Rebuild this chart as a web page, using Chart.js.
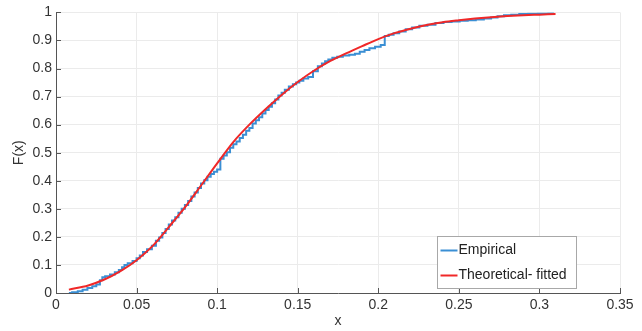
<!DOCTYPE html>
<html>
<head>
<meta charset="utf-8">
<script src="https://cdn.jsdelivr.net/npm/chart.js@4"></script>
<style>
  body { margin: 0; background: #fff; }
  #wrap { width: 642px; height: 331px; }
</style>
</head>
<body>
<div id="wrap"><canvas id="cdfChart"></canvas></div>
<script>
// empirical CDF
const empX = [0.008, 0.012, 0.015, 0.018, 0.021, 0.024, 0.026, 0.0285, 0.029, 0.032, 0.035, 0.038, 0.040, 0.042, 0.043,
  0.046, 0.049, 0.051, 0.053, 0.055, 0.058, 0.061, 0.063, 0.065, 0.067, 0.069, 0.071, 0.073, 0.075, 0.077, 0.079,
  0.081, 0.083, 0.085, 0.087, 0.089, 0.091, 0.093, 0.095, 0.097, 0.099, 0.101, 0.103, 0.105, 0.107, 0.109, 0.111,
  0.113, 0.115, 0.117, 0.119, 0.121, 0.123, 0.125, 0.127, 0.129, 0.131, 0.133, 0.135, 0.137, 0.139, 0.141, 0.143,
  0.146, 0.148, 0.150, 0.152, 0.155, 0.158, 0.161, 0.164, 0.166, 0.168, 0.170, 0.173, 0.176, 0.180, 0.184, 0.187,
  0.190, 0.193, 0.196, 0.200, 0.203, 0.205, 0.208, 0.211, 0.215, 0.219, 0.223, 0.228, 0.233, 0.238, 0.243, 0.248,
  0.253, 0.258, 0.263, 0.268, 0.272, 0.276, 0.280, 0.285, 0.290, 0.296, 0.302, 0.309];
const empY = [0.000, 0.003, 0.006, 0.012, 0.018, 0.024, 0.030, 0.045, 0.056, 0.060, 0.066, 0.074, 0.082, 0.092, 0.100,
  0.106, 0.114, 0.124, 0.134, 0.146, 0.156, 0.168, 0.186, 0.198, 0.214, 0.228, 0.244, 0.258, 0.270, 0.286, 0.300,
  0.314, 0.328, 0.344, 0.358, 0.374, 0.390, 0.402, 0.414, 0.424, 0.432, 0.440, 0.478, 0.490, 0.502, 0.518, 0.530,
  0.540, 0.552, 0.564, 0.578, 0.588, 0.604, 0.616, 0.626, 0.640, 0.652, 0.664, 0.676, 0.690, 0.704, 0.714, 0.724,
  0.736, 0.744, 0.750, 0.756, 0.764, 0.770, 0.790, 0.808, 0.818, 0.826, 0.832, 0.838, 0.842, 0.846, 0.849, 0.853,
  0.860, 0.866, 0.872, 0.878, 0.884, 0.916, 0.920, 0.926, 0.932, 0.940, 0.946, 0.952, 0.956, 0.962, 0.966, 0.968,
  0.970, 0.972, 0.975, 0.978, 0.982, 0.986, 0.990, 0.992, 0.994, 0.995, 0.996, 0.997];

// fitted theoretical CDF
const fitX = [0.008, 0.02, 0.03, 0.04, 0.05, 0.06, 0.07, 0.08, 0.09, 0.10, 0.11, 0.12, 0.13, 0.14, 0.15, 0.16,
  0.17, 0.18, 0.19, 0.20, 0.21, 0.22, 0.23, 0.24, 0.25, 0.26, 0.27, 0.28, 0.29, 0.30, 0.31];
const fitY = [0.012, 0.027, 0.048, 0.078, 0.117, 0.168, 0.235, 0.305, 0.383, 0.462, 0.538, 0.600, 0.655, 0.706,
  0.752, 0.792, 0.826, 0.854, 0.880, 0.905, 0.926, 0.942, 0.955, 0.965, 0.972, 0.978, 0.983, 0.987, 0.990, 0.992, 0.994];

const xTicks = [0, 0.05, 0.1, 0.15, 0.2, 0.25, 0.3, 0.35];
const seriesNames = ['Empirical', 'Theoretical- fitted'];
const seriesColors = ['#3a8fd4', '#f02828'];

const pts = (xs, ys) => xs.map((x, i) => ({ x: x, y: ys[i] }));
const fmt = v => String(parseFloat(v.toFixed(2)));

// MATLAB style inward ticks + legend inside the axes
const extras = {
  id: 'extras',
  afterDraw(chart) {
    const ctx = chart.ctx;
    const xs = chart.scales.x, ys = chart.scales.y;
    const a = chart.chartArea;
    ctx.save();
    ctx.strokeStyle = '#555';
    ctx.lineWidth = 1;
    ctx.beginPath();
    xTicks.forEach(v => {
      const px = Math.round(xs.getPixelForValue(v)) + 0.5;
      ctx.moveTo(px, a.bottom);
      ctx.lineTo(px, a.bottom - 5);
    });
    ys.ticks.forEach(t => {
      const py = Math.round(ys.getPixelForValue(t.value)) + 0.5;
      ctx.moveTo(a.left, py);
      ctx.lineTo(a.left + 5, py);
    });
    ctx.stroke();

    // legend box
    const bx = 437.5, by = 236.5, bw = 139, bh = 52;
    ctx.fillStyle = '#fff';
    ctx.fillRect(bx, by, bw, bh);
    ctx.strokeStyle = '#a8a8a8';
    ctx.strokeRect(bx, by, bw, bh);
    ctx.font = '14px "Liberation Sans", Arial, sans-serif';
    ctx.textBaseline = 'middle';
    seriesNames.forEach((name, i) => {
      const ly = by + 14 + i * 25;
      ctx.strokeStyle = seriesColors[i];
      ctx.lineWidth = 2;
      ctx.beginPath();
      ctx.moveTo(bx + 3, ly);
      ctx.lineTo(bx + 20, ly);
      ctx.stroke();
      ctx.fillStyle = '#222';
      ctx.fillText(name, bx + 21, ly);
    });
    ctx.restore();
  }
};

const ctx = document.getElementById('cdfChart').getContext('2d');
new Chart(ctx, {
  type: 'line',
  data: {
    datasets: [{
      label: seriesNames[0],
      data: pts(empX, empY),
      borderColor: seriesColors[0],
      borderWidth: 2,
      pointRadius: 0,
      stepped: 'middle',
      order: 1
    }, {
      label: seriesNames[1],
      data: pts(fitX, fitY),
      borderColor: seriesColors[1],
      borderWidth: 2,
      pointRadius: 0,
      tension: 0.4,
      cubicInterpolationMode: 'monotone',
      order: 0
    }]
  },
  options: {
    responsive: true,
    maintainAspectRatio: false,
    animation: false,
    layout: { padding: { top: 11, right: 22, left: 0, bottom: 0 } },
    plugins: {
      legend: { display: false },
      tooltip: { enabled: false }
    },
    scales: {
      x: {
        type: 'linear',
        min: 0,
        max: 0.35,
        afterBuildTicks: s => { s.ticks = xTicks.map(v => ({ value: v })); },
        afterFit: s => { s.height = 38; },
        grid: { color: '#ebebeb', drawTicks: false },
        border: { color: '#555' },
        ticks: {
          padding: 4,
          color: '#333',
          font: { size: 14, family: '"Liberation Sans", Arial, sans-serif' },
          maxRotation: 0,
          callback: v => fmt(v)
        },
        title: {
          display: true,
          text: 'x',
          color: '#333',
          font: { size: 14, family: '"Liberation Sans", Arial, sans-serif' },
          padding: { top: 0, bottom: 1 }
        }
      },
      y: {
        min: 0,
        max: 1,
        afterFit: s => { s.width = 56; },
        grid: { color: '#ebebeb', drawTicks: false },
        border: { color: '#555' },
        ticks: {
          stepSize: 0.1,
          padding: 4,
          color: '#333',
          font: { size: 14, family: '"Liberation Sans", Arial, sans-serif' },
          callback: v => fmt(v)
        },
        title: {
          display: true,
          text: 'F(x)',
          color: '#333',
          font: { size: 14, family: '"Liberation Sans", Arial, sans-serif' },
          padding: { top: 11, bottom: 0 }
        }
      }
    }
  },
  plugins: [extras]
});
</script>
</body>
</html>
